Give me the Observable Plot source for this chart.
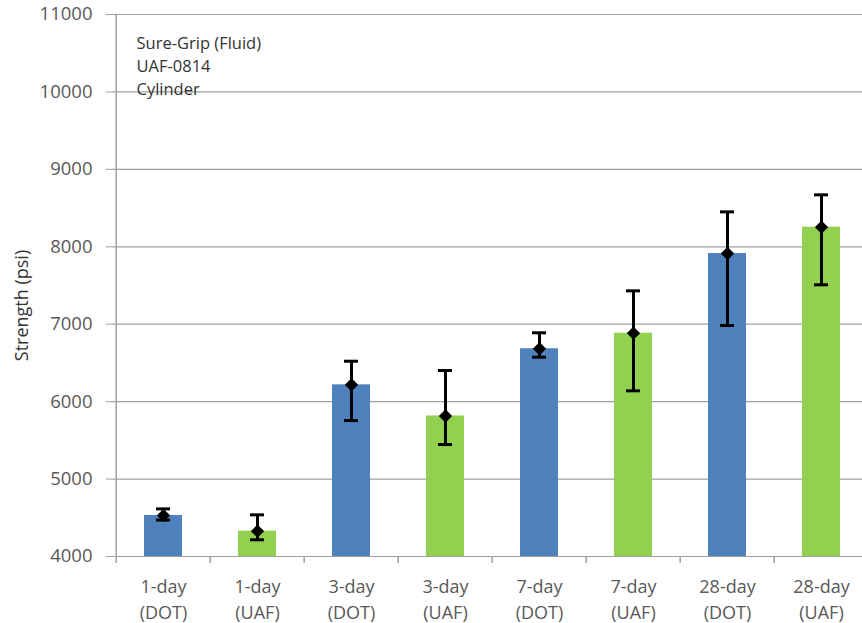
<!DOCTYPE html>
<html><head><meta charset="utf-8">
<script src="https://cdn.jsdelivr.net/npm/d3@7"></script>
<script src="https://cdn.jsdelivr.net/npm/@observablehq/plot@0.6"></script>
<style>body{margin:0;background:#fff;}</style>
</head><body><div id="chart"></div>
<script>
const ages = ["1-day", "1-day", "3-day", "3-day", "7-day", "7-day", "28-day", "28-day"];
const sources = ["DOT", "UAF", "DOT", "UAF", "DOT", "UAF", "DOT", "UAF"];
const strength = [4530, 4327, 6217, 5815, 6683, 6884, 7913, 8253];
const errorHigh = [4615, 4538, 6522, 6402, 6889, 7431, 8451, 8671];
const errorLow = [4470, 4216, 5756, 5446, 6574, 6140, 6983, 7509];
const yTicks = [4000, 5000, 6000, 7000, 8000, 9000, 10000, 11000];
const noteLines = ["Sure-Grip (Fluid)", "UAF-0814", "Cylinder"];
const yTitle = "Strength (psi)";
const sourceColors = {DOT: "#4f81bd", UAF: "#92d050"};

const data = ages.map((a, i) => ({
  label: `${a}\n(${sources[i]})`,
  source: sources[i],
  value: strength[i],
  hi: errorHigh[i],
  lo: errorLow[i]
}));
const labels = data.map(d => d.label);

const xRange = [113, 870];
const step = (xRange[1] - xRange[0]) / labels.length;
const grid = "#a0a0a0";
const textColor = "#595959";

const chart = Plot.plot({
  width: 862,
  height: 623,
  marginLeft: 113,
  marginRight: 0,
  marginTop: 14,
  marginBottom: 67,
  style: {fontFamily: "'Open Sans', sans-serif", background: "#fff", color: textColor, overflow: "visible"},
  x: {domain: labels, range: xRange, paddingInner: 0.6, paddingOuter: 0.3, label: null},
  y: {domain: [4000, 11000], label: null},
  color: {domain: Object.keys(sourceColors), range: Object.values(sourceColors)},
  marks: [
    Plot.ruleY(yTicks, {stroke: grid, strokeWidth: 1.2}),
    Plot.barY(data, {x: "label", y1: 4000, y2: "value", fill: "source"}),
    Plot.ruleX(data, {x: "label", y1: "lo", y2: "hi", stroke: "black", strokeWidth: 3}),
    Plot.tickY(data, {x: "label", y: "hi", stroke: "black", strokeWidth: 3, insetLeft: 12, insetRight: 12}),
    Plot.tickY(data, {x: "label", y: "lo", stroke: "black", strokeWidth: 3, insetLeft: 12, insetRight: 12}),
    Plot.dot(data, {x: "label", y: "value", symbol: "diamond2", r: 6, fill: "black", stroke: null}),
    // y axis line
    Plot.ruleX([labels[0]], {x: d => d, dx: -step / 2, stroke: grid, strokeWidth: 1.5}),
    // x axis boundary ticks
    Plot.ruleX(labels, {x: d => d, y1: 4000, y2: 4000, insetBottom: -7, dx: -step / 2, stroke: grid, strokeWidth: 1.5}),
    Plot.axisY(yTicks, {tickSize: 7, tickPadding: 14, fontSize: 18.5, tickFormat: d => String(d), stroke: grid, fill: textColor, label: null}),
    Plot.axisX({tickSize: 0, tickPadding: 18, fontSize: 18, lineHeight: 1.45, fill: textColor, label: null}),
    Plot.text([yTitle], {frameAnchor: "left", textAnchor: "middle", rotate: -90, dx: -91, dy: 20, fontSize: 18, fill: "#333"}),
    Plot.text([noteLines.join("\n")], {frameAnchor: "top-left", textAnchor: "start", lineAnchor: "top", dx: 23, dy: 18, fontSize: 16.5, lineHeight: 1.4, fill: "#333"})
  ]
});
document.getElementById("chart").appendChild(chart);
</script>
</body></html>
